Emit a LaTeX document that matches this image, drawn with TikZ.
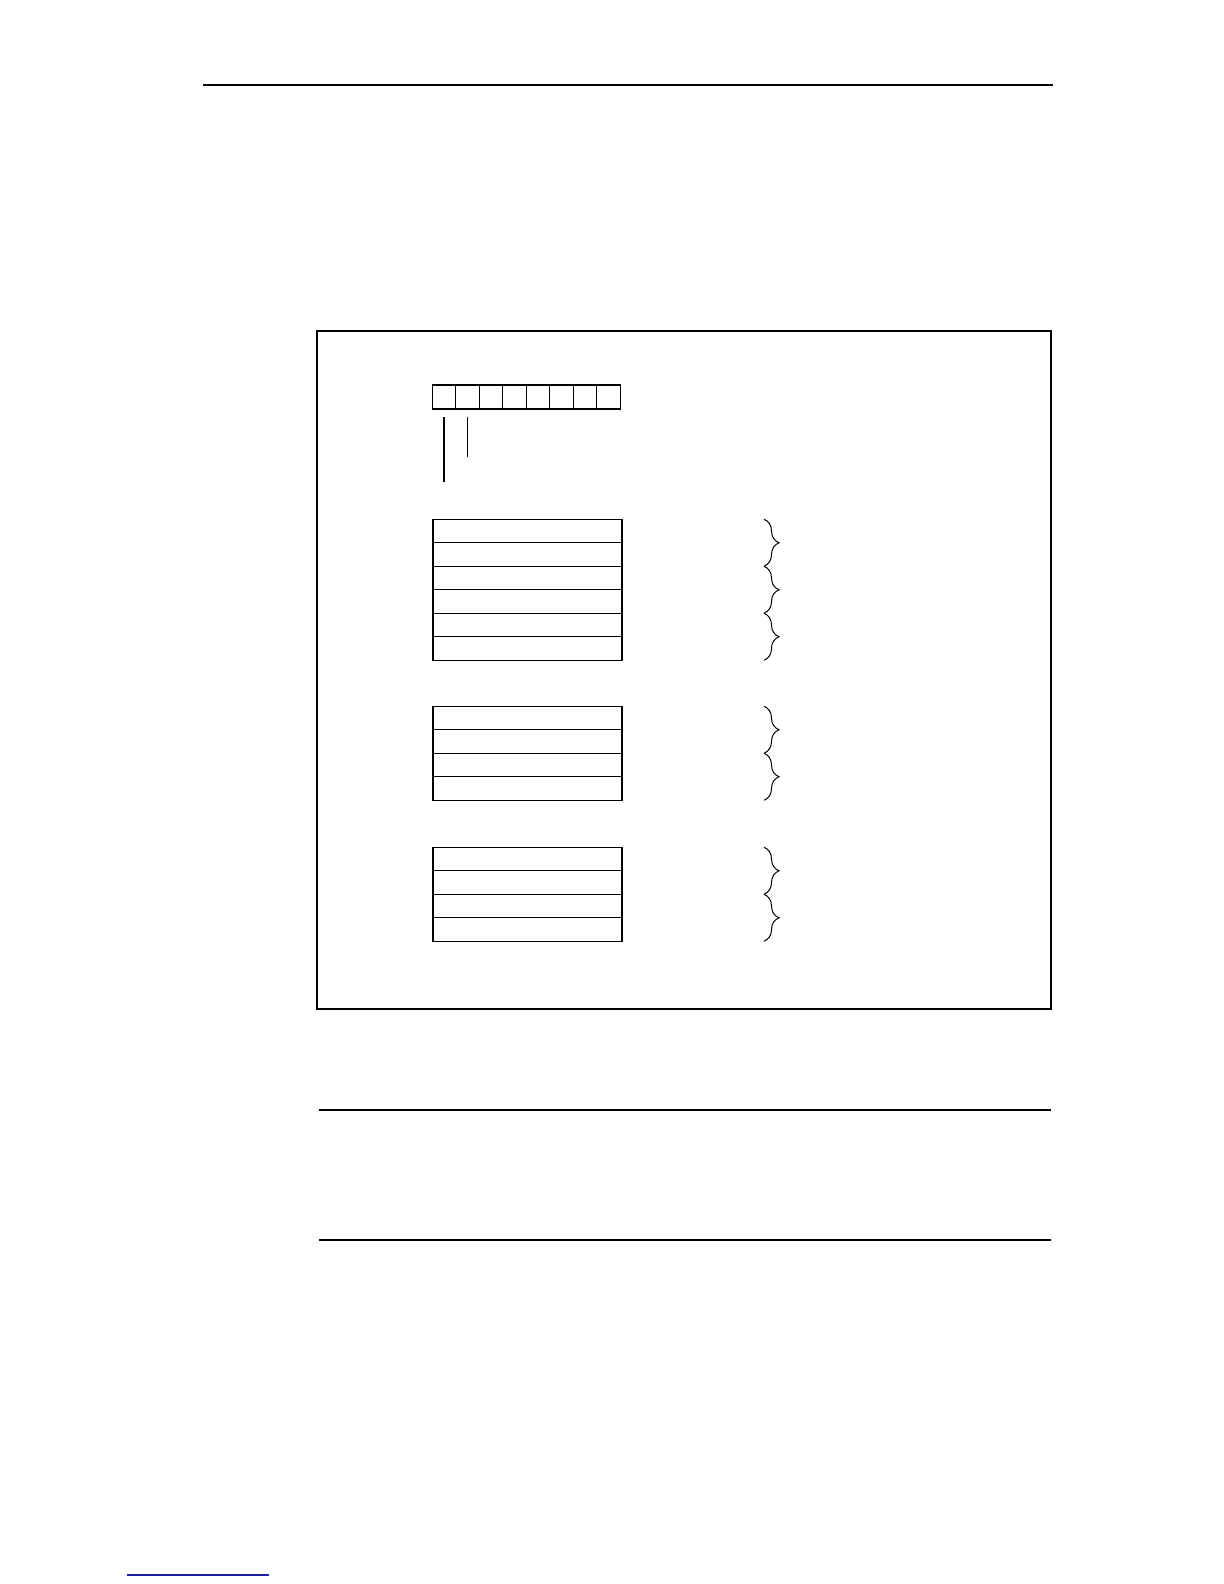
\documentclass[tikz,border=0pt]{standalone}
\usetikzlibrary{positioning,decorations.pathreplacing}
\definecolor{linkblue}{RGB}{30,30,160}
\begin{document}
\begin{tikzpicture}[x=0.5pt,y=-0.5pt,line width=0.7pt,node distance=11.75pt,
    bit/.style={draw,minimum width=11.75pt,minimum height=12pt,inner sep=0pt,outer sep=0pt},
    row/.style={draw,minimum width=94.5pt,minimum height=11.75pt,inner sep=0pt,outer sep=0pt},
    brace/.style={decorate,decoration={brace,amplitude=7.5pt},line width=0.5pt}]
        \useasboundingbox (0,0) rectangle (1224,1584);

        % page rules and frame
        \draw (203,85) -- (1053,85);
        \draw (317,331) rectangle (1051,1009);
        \draw (319,1110) -- (1051,1110);
        \draw (319,1240) -- (1051,1240);
        \draw[linkblue] (127,1575) -- (269,1575);

        % byte
        \node[bit] (b1) at (444,397) {};
        \node[bit] (b2) [right of=b1] {};
        \node[bit] (b3) [right of=b2] {};
        \node[bit] (b4) [right of=b3] {};
        \node[bit] (b5) [right of=b4] {};
        \node[bit] (b6) [right of=b5] {};
        \node[bit] (b7) [right of=b6] {};
        \node[bit] (b8) [right of=b7] {};
        \coordinate[below=36.5pt of b1.south] (t1);
        \coordinate[below=24.2pt of b2.south] (t2);
        \draw[shorten <=4pt] (b1.south) -- (t1);
        \draw[shorten <=4pt] (b2.south) -- (t2);

        % first table
        \node[row] (a1) at (527.5,531) {};
        \node[row] (a2) [below of=a1] {};
        \node[row] (a3) [below of=a2] {};
        \node[row] (a4) [below of=a3] {};
        \node[row] (a5) [below of=a4] {};
        \node[row] (a6) [below of=a5] {};

        % second table
        \node[row] (c1) at (527.5,718) {};
        \node[row] (c2) [below of=c1] {};
        \node[row] (c3) [below of=c2] {};
        \node[row] (c4) [below of=c3] {};

        % third table
        \node[row] (d1) at (527.5,859) {};
        \node[row] (d2) [below of=d1] {};
        \node[row] (d3) [below of=d2] {};
        \node[row] (d4) [below of=d3] {};

        \draw[brace] ([xshift=71pt]a1.north east) -- ([xshift=71pt]a2.south east);
        \draw[brace] ([xshift=71pt]a3.north east) -- ([xshift=71pt]a4.south east);
        \draw[brace] ([xshift=71pt]a5.north east) -- ([xshift=71pt]a6.south east);
        \draw[brace] ([xshift=71pt]c1.north east) -- ([xshift=71pt]c2.south east);
        \draw[brace] ([xshift=71pt]c3.north east) -- ([xshift=71pt]c4.south east);
        \draw[brace] ([xshift=71pt]d1.north east) -- ([xshift=71pt]d2.south east);
        \draw[brace] ([xshift=71pt]d3.north east) -- ([xshift=71pt]d4.south east);
    \end{tikzpicture}
\end{document}
